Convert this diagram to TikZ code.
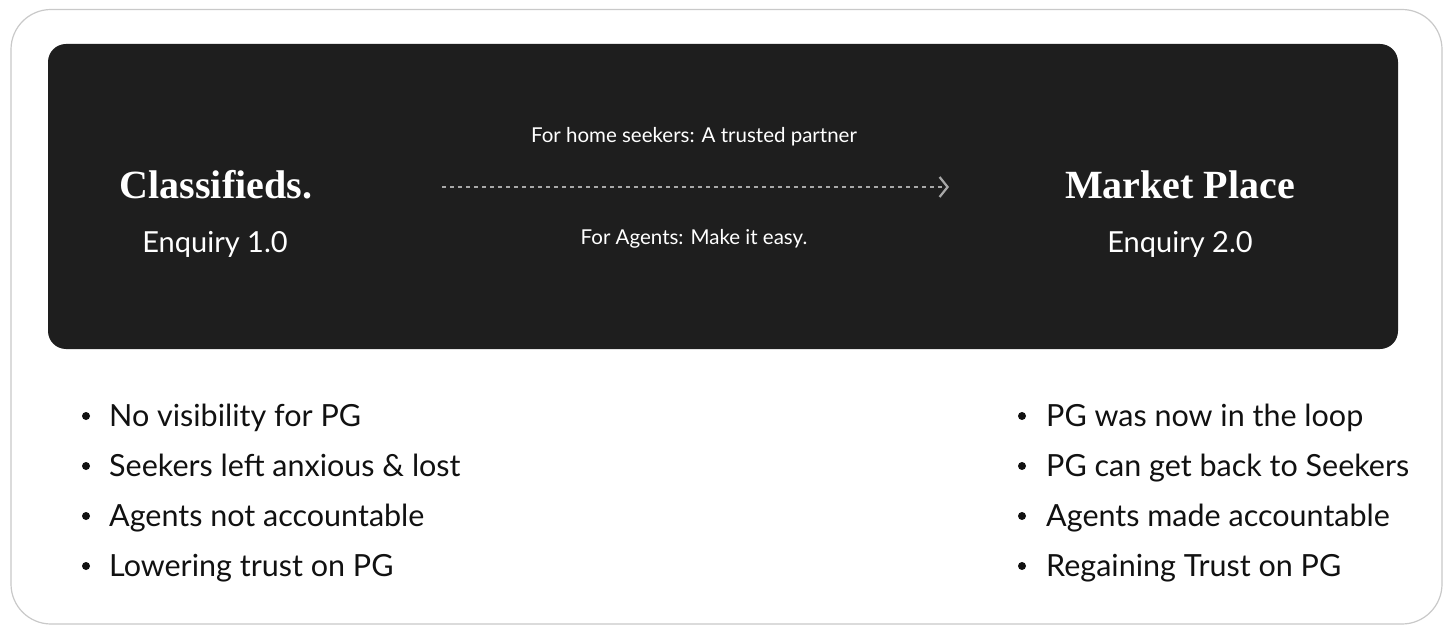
\documentclass[tikz,border=0pt]{standalone}
\usepackage{fontspec}
\setmainfont{Lato}
\newfontfamily\titlefont{Liberation Serif}
\usetikzlibrary{arrows.meta}
\definecolor{panel}{HTML}{1E1E1E}
\definecolor{frame}{HTML}{C9C9C9}
\definecolor{ink}{HTML}{111111}
\definecolor{arrowgray}{HTML}{A8A8A8}
\tikzset{
  titletext/.style={text=white,font=\titlefont\bfseries\fontsize{40}{44}\selectfont,anchor=base,inner sep=0pt},
  subtext/.style={text=white,font=\fontsize{29}{32}\selectfont,anchor=base,inner sep=0pt},
  labeltext/.style={text=white,font=\fontsize{20.5}{24}\selectfont,anchor=base,inner sep=0pt},
  bullettext/.style={text=ink,font=\fontsize{30.5}{34}\selectfont,anchor=base west,inner sep=0pt},
  bulletdot/.style={circle,fill=ink,draw=none,inner sep=0pt,minimum size=8pt},
}
\begin{document}
\begin{tikzpicture}[x=1pt,y=-1pt]
\useasboundingbox (0,0) rectangle (1456,639);
\fill[white] (0,0) rectangle (1456,639);
\draw[frame,line width=1.2pt,rounded corners=40pt] (11,9.5) rectangle (1442,624);
\fill[panel,rounded corners=18pt] (48,44) rectangle (1398,349);

\node[titletext] (t1) at (216,199) {Classifieds.};
\node[subtext] (s1) at (215,252) {Enquiry 1.0};
\node[titletext] (t2) at (1180,199) {Market Place};
\node[subtext] (s2) at (1180,252) {Enquiry 2.0};

\coordinate (a1) at (442,187);
\coordinate (a2) at (949,187);
\draw[arrowgray,line width=2pt,dash pattern=on 4pt off 4pt,-{Straight Barb[length=8pt,width=20pt,line width=2.2pt]}] (a1) -- (a2);
\node[labeltext] (l1) at (694,143) {For home seekers: A trusted partner};
\node[labeltext] (l2) at (694,244) {For Agents: Make it easy.};

\foreach \i/\txt in {0/No visibility for PG,1/Seekers left anxious \& lost,2/Agents not accountable,3/Lowering trust on PG}{
  \node[bulletdot] (lb\i) at (86,416+50*\i) {};
  \node[bullettext] (lt\i) at (109,426+50*\i) {\txt};
}
\foreach \i/\txt in {0/PG was now in the loop,1/PG can get back to Seekers,2/Agents made accountable,3/Regaining Trust on PG}{
  \node[bulletdot] (rb\i) at (1022,416+50*\i) {};
  \node[bullettext] (rt\i) at (1046,426+50*\i) {\txt};
}
\end{tikzpicture}
\end{document}
